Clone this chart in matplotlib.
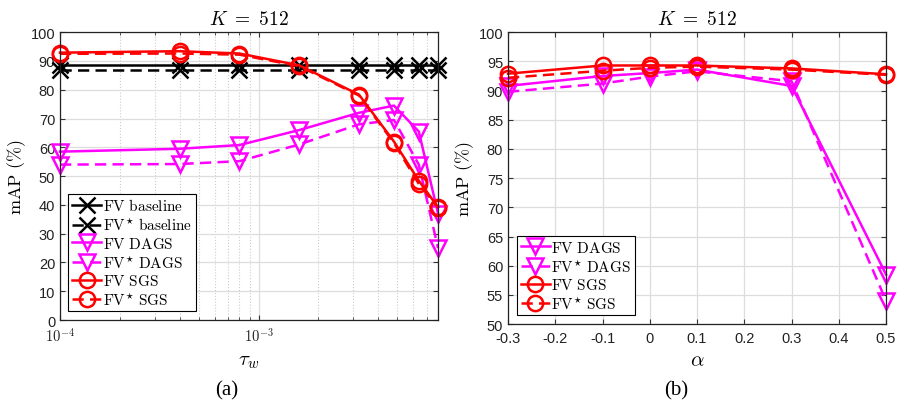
import matplotlib
matplotlib.use('Agg')
import matplotlib.pyplot as plt
from matplotlib.ticker import FixedLocator, FixedFormatter, LogLocator, NullFormatter

plt.rcParams['font.family'] = ['Liberation Sans', 'DejaVu Sans']
plt.rcParams['mathtext.fontset'] = 'cm'

# (a) mAP vs tau_w
tau_w = [1e-4, 4e-4, 8e-4, 1.6e-3, 3.2e-3, 4.8e-3, 6.4e-3, 8e-3]
fv_base = [88.7] * 8
fvs_base = [86.9] * 8
fv_dags_a = [58.5, 59.5, 60.8, 66.0, 72.0, 74.5, 65.5, 37.0]
fvs_dags_a = [54.0, 54.2, 55.2, 61.0, 68.0, 69.5, 54.0, 25.0]
fv_sgs_a = [92.9, 93.4, 92.6, 88.5, 78.3, 62.0, 48.4, 39.2]
fvs_sgs_a = [92.5, 92.6, 92.2, 88.2, 78.0, 61.5, 47.3, 39.0]

# (b) mAP vs alpha
alpha = [-0.3, -0.1, 0.0, 0.1, 0.3, 0.5]
fv_dags_b = [90.8, 92.5, 93.0, 93.6, 90.8, 58.5]
fvs_dags_b = [89.8, 91.2, 92.4, 93.3, 91.6, 54.0]
fv_sgs_b = [92.9, 94.3, 94.3, 94.3, 93.8, 92.8]
fvs_sgs_b = [92.2, 93.4, 93.9, 94.1, 93.6, 92.7]

MAG = '#ff00ff'
RED = '#ff0000'
mk = dict(markersize=11, markeredgewidth=1.8, markerfacecolor='none', linewidth=1.8)

fig = plt.figure(figsize=(8.98, 4.10), dpi=100)
ax1 = fig.add_axes([0.0668, 0.217, 0.421, 0.702])
ax2 = fig.add_axes([0.5657, 0.207, 0.421, 0.712])

dash = (0, (4.5, 2.5))

ax1.plot(tau_w, fv_base, '-', marker='x', color='k', label=r'$\mathrm{FV\ baseline}$', **mk)
ax1.plot(tau_w, fvs_base, linestyle=dash, marker='x', color='k', label=r'$\mathrm{FV^{\star}\ baseline}$', **mk)
ax1.plot(tau_w, fv_dags_a, '-', marker='v', color=MAG, label=r'$\mathrm{FV\ DAGS}$', **mk)
ax1.plot(tau_w, fvs_dags_a, linestyle=dash, marker='v', color=MAG, label=r'$\mathrm{FV^{\star}\ DAGS}$', **mk)
ax1.plot(tau_w, fv_sgs_a, '-', marker='o', color=RED, label=r'$\mathrm{FV\ SGS}$', **mk)
ax1.plot(tau_w, fvs_sgs_a, linestyle=dash, marker='o', color=RED, label=r'$\mathrm{FV^{\star}\ SGS}$', **mk)

ax1.set_xscale('log')
ax1.set_xlim(1e-4, 8e-3)
ax1.set_ylim(0, 100)
ax1.set_yticks(range(0, 101, 10))
ax1.xaxis.set_major_locator(FixedLocator([1e-4, 1e-3]))
ax1.xaxis.set_major_formatter(FixedFormatter([r'$\mathsf{10^{-4}}$', r'$\mathsf{10^{-3}}$']))
ax1.xaxis.set_minor_locator(LogLocator(base=10, subs=range(2, 10)))
ax1.xaxis.set_minor_formatter(NullFormatter())
ax1.grid(True, which='major', color='#dddddd', linewidth=0.9)
ax1.grid(True, which='minor', axis='x', color='#cccccc', linestyle=':', linewidth=0.8)
ax1.set_xlabel(r'$\tau_w$', fontsize=15, labelpad=4)
ax1.set_ylabel(r'$\mathrm{mAP\ (\%)}$', fontsize=13, labelpad=2)
ax1.set_title(r'$K\ =\ 512$', fontsize=14, pad=6)
leg1 = ax1.legend(loc='lower left', bbox_to_anchor=(0.022, 0.03), fontsize=11, handlelength=1.9,
                  handletextpad=0.1, borderpad=0.25, labelspacing=0.18, borderaxespad=0,
                  fancybox=False, framealpha=1, edgecolor='k')
leg1.get_frame().set_linewidth(0.8)

ax2.plot(alpha, fv_dags_b, '-', marker='v', color=MAG, label=r'$\mathrm{FV\ DAGS}$', **mk)
ax2.plot(alpha, fvs_dags_b, linestyle=dash, marker='v', color=MAG, label=r'$\mathrm{FV^{\star}\ DAGS}$', **mk)
ax2.plot(alpha, fv_sgs_b, '-', marker='o', color=RED, label=r'$\mathrm{FV\ SGS}$', **mk)
ax2.plot(alpha, fvs_sgs_b, linestyle=dash, marker='o', color=RED, label=r'$\mathrm{FV^{\star}\ SGS}$', **mk)
ax2.set_xlim(-0.3, 0.5)
ax2.set_ylim(50, 100)
ax2.set_yticks(range(50, 101, 5))
xt = [-0.3, -0.2, -0.1, 0, 0.1, 0.2, 0.3, 0.4, 0.5]
ax2.set_xticks(xt)
ax2.set_xticklabels(['-0.3', '-0.2', '-0.1', '0', '0.1', '0.2', '0.3', '0.4', '0.5'])
ax2.grid(True, color='#dddddd', linewidth=0.9)
ax2.set_xlabel(r'$\alpha$', fontsize=15, labelpad=4)
ax2.set_ylabel(r'$\mathrm{mAP\ (\%)}$', fontsize=13, labelpad=2)
ax2.set_title(r'$K\ =\ 512$', fontsize=14, pad=6)
leg2 = ax2.legend(loc='lower left', bbox_to_anchor=(0.024, 0.03), fontsize=11, handlelength=1.9,
                  handletextpad=0.1, borderpad=0.25, labelspacing=0.18, borderaxespad=0,
                  fancybox=False, framealpha=1, edgecolor='k')
leg2.get_frame().set_linewidth(0.8)

for ax in (ax1, ax2):
    ax.set_axisbelow(True)
    ax.tick_params(which='both', direction='in', top=True, right=True, labelsize=10.5,
                   color='#333333', labelcolor='#222222')
    ax.tick_params(axis='x', pad=5)
    for s in ax.spines.values():
        s.set_linewidth(0.9)
        s.set_color('#222222')
    for c in ax.lines:
        c.set_clip_on(False)

fig.text(0.2525, 0.035, '(a)', ha='center', fontsize=15, family='Liberation Serif')
fig.text(0.7525, 0.035, '(b)', ha='center', fontsize=15, family='Liberation Serif')

fig.savefig('out.png', dpi=100)
